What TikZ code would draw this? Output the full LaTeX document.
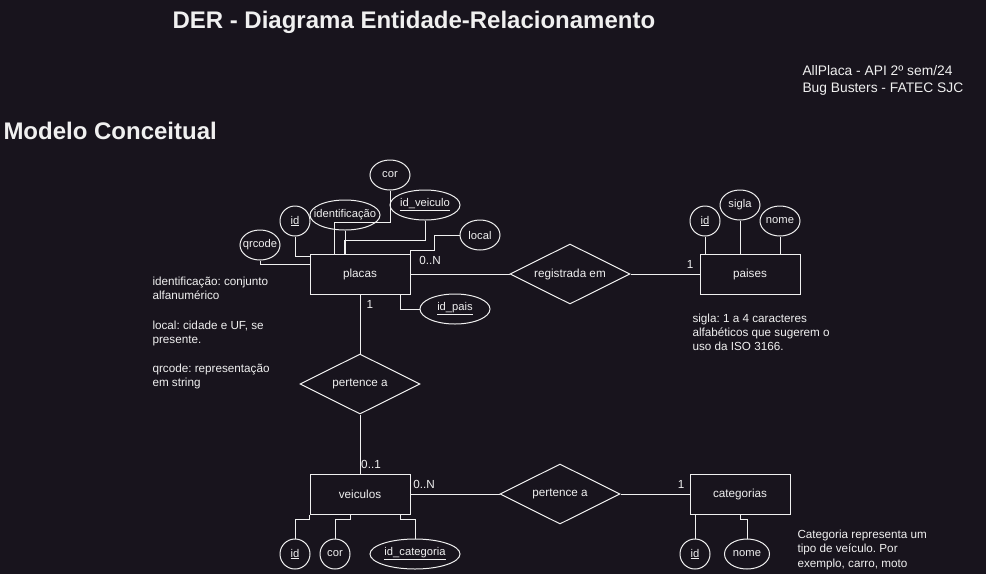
\documentclass[tikz,border=0pt]{standalone}
\usepackage{fontspec}
\setmainfont{Liberation Sans}
\usetikzlibrary{shapes.geometric}
\definecolor{fundo}{HTML}{18141D}
\definecolor{traco}{HTML}{F0F0F0}
\frenchspacing

\begin{document}
\begin{tikzpicture}[x=1pt, y=-1pt, line width=1pt, color=traco,
    font=\fontsize{11.7}{14}\selectfont,
    every label/.style={font=\fontsize{11.2}{13}\selectfont},
    entidade/.style={draw, rectangle, minimum width=100pt, minimum height=40pt, inner sep=0pt},
    relacao/.style={draw, diamond, shape aspect=2, minimum width=120pt, minimum height=60pt, inner sep=0pt},
    atrib/.style={draw, ellipse, minimum width=40pt, minimum height=30pt, inner sep=0pt},
    nota/.style={anchor=north west, align=left, inner sep=0pt},
    card/.style={inner sep=0pt}]
            \fill[fundo] (0,0) rectangle (986,574);
            \useasboundingbox (0,0) rectangle (986,574);
            % titulos
            \node[anchor=west, inner sep=0pt, font=\fontsize{24}{28}\selectfont\bfseries] (titulo) at (172,22.5) {DER - Diagrama Entidade-Relacionamento};
            \node[anchor=west, inner sep=0pt, font=\fontsize{24}{28}\selectfont\bfseries] (modelo) at (3,131) {Modelo Conceitual};
            \node[nota, font=\fontsize{13.8}{17}\selectfont] (autores) at (802,65) {AllPlaca - API 2º sem/24\\Bug Busters - FATEC SJC};
            % entidades e relacionamentos
            \node[entidade] (placas) at (360,274) {placas};
            \node[relacao] (registrada) at (570,274) {registrada em};
            \node[entidade] (paises) at (750,274) {paises};
            \node[relacao] (pertence1) at (360,384) {pertence a};
            \node[entidade] (veiculos) at (360,494) {veiculos};
            \node[relacao] (pertence2) at (560,494) {pertence a};
            \node[entidade] (categorias) at (740,494) {categorias};
            \draw (placas) -- (registrada) -- (paises);
            \draw (placas) -- (pertence1) -- (veiculos);
            \draw (veiculos) -- (pertence2) -- (categorias);
            % cardinalidades
            \node[card] (c1) at (430,260) {0..N};
            \node[card] (c2) at (690,264) {1};
            \node[card] (c3) at (370,304) {1};
            \node[card] (c4) at (371,464) {0..1};
            \node[card] (c5) at (424,484) {0..N};
            \node[card] (c6) at (681,484) {1};
            % atributos de placas
            \node[atrib, label=center:qrcode] (qrcode) at (260,245) {};
            \node[atrib, minimum width=30pt, label=center:\underline{id}] (idplaca) at (295,221) {};
            \node[atrib, minimum width=70pt, label=center:identificação] (ident) at (345,215) {};
            \node[atrib, label=center:cor] (corplaca) at (390,175) {};
            \node[atrib, minimum width=70pt, label=center:\underline{id\_veiculo}] (idveic) at (425,205) {};
            \node[atrib, label=center:local] (local) at (480,235) {};
            \node[atrib, minimum width=70pt, label=center:\underline{id\_pais}] (idpais) at (455,309) {};
            \draw (qrcode.south) |- ([yshift=-11pt]placas.north west);
            \draw (idplaca.south) |- ([yshift=-3pt]placas.north west);
            \draw (ident.south) -- (ident.south |- placas.north);
            \draw (corplaca.south) -- ++(0,32) -| ([xshift=25pt]placas.north west);
            \draw (idveic.south) -- ++(0,20) -| ([xshift=35pt]placas.north west);
            \draw (local.west) -- ++(-25,0) -- ++(0,15) -| (placas.north east);
            \draw ([xshift=-10pt]placas.south east) |- (idpais.west);
            % atributos de paises
            \node[atrib, minimum width=30pt, label=center:\underline{id}] (idpaises) at (705,221) {};
            \node[atrib, label=center:sigla] (sigla) at (740,205) {};
            \node[atrib, label=center:nome] (nomepais) at (780,221) {};
            \draw (idpaises.south) -- (idpaises.south |- paises.north);
            \draw (sigla.south) -- (sigla.south |- paises.north);
            \draw (nomepais.south) -- (nomepais.south |- paises.north);
            % atributos de veiculos
            \node[atrib, minimum width=30pt, label=center:\underline{id}] (idveiculos) at (295,554) {};
            \node[atrib, minimum width=30pt, label=center:cor] (corveic) at (335,554) {};
            \node[atrib, minimum width=90pt, label=center:\underline{id\_categoria}] (idcat) at (415,554) {};
            \draw (idveiculos.north) -- ++(0,-19) -| (veiculos.south west);
            \draw (corveic.north) -- ++(0,-19) -| ([xshift=41pt]veiculos.south west);
            \draw (idcat.north) -- ++(0,-19) -| ([xshift=-10pt]veiculos.south east);
            % atributos de categorias
            \node[atrib, minimum width=30pt, label=center:\underline{id}] (idcategorias) at (695,554) {};
            \node[atrib, minimum width=45pt, label=center:nome] (nomecat) at (747,554) {};
            \draw (idcategorias.north) -- (idcategorias.north |- categorias.south);
            \draw (nomecat.north) -- ++(0,-19) -| ([xshift=51pt]categorias.south west);
            % notas
            \node[nota] (nota1) at (152,276.5) {identificação: conjunto\\alfanumérico};
            \node[nota] (nota2) at (152,320.5) {local: cidade e UF, se\\presente.};
            \node[nota] (nota3) at (152,363.5) {qrcode: representação\\em string};
            \node[nota] (nota4) at (692,313.5) {sigla: 1 a 4 caracteres\\alfabéticos que sugerem o\\uso da ISO 3166.};
            \node[nota, font=\fontsize{11.7}{14.5}\selectfont] (nota5) at (797,529.5) {Categoria representa um\\tipo de veículo. Por\\exemplo, carro, moto};
        \end{tikzpicture}
\end{document}
